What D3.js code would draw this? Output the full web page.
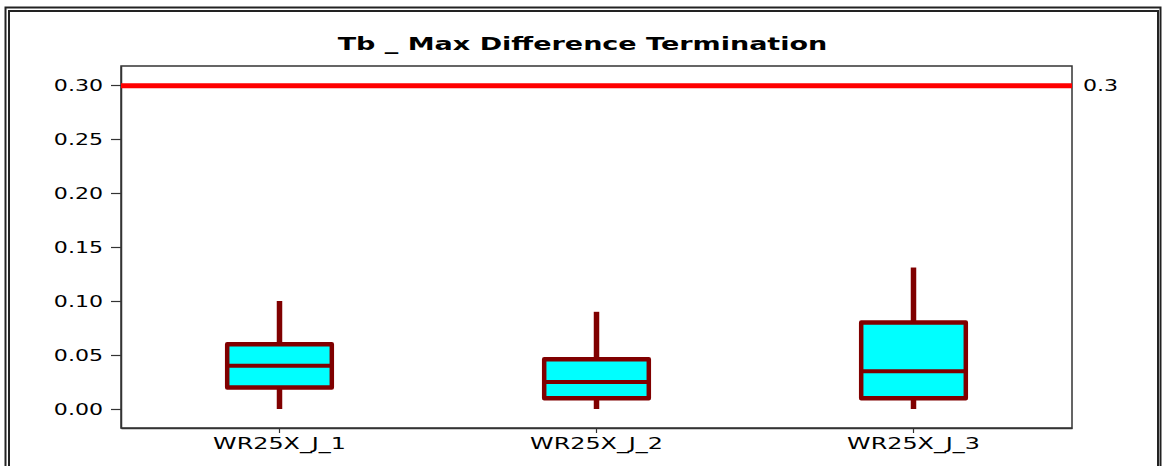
<!DOCTYPE html>
<html><head><meta charset="utf-8">
<script src="https://cdn.jsdelivr.net/npm/d3@7"></script>
<style>
body{margin:0;background:#fff;}
svg{display:block;font-family:"DejaVu Sans",Verdana,sans-serif;}
</style></head>
<body><svg id="c" width="1162" height="466"></svg>
<script>
const title = "Tb _ Max Difference Termination";
const categories = ["WR25X_J_1","WR25X_J_2","WR25X_J_3"];
const whiskerLow = [0.0, 0.0, 0.0];
const q1 = [0.02, 0.01, 0.01];
const median = [0.04, 0.025, 0.035];
const q3 = [0.06, 0.046, 0.080];
const whiskerHigh = [0.10, 0.09, 0.131];
const yTicks = [0.00,0.05,0.10,0.15,0.20,0.25,0.30];
const refValue = 0.3;
const refLabel = "0.3";

const svg = d3.select("#c");
const L=121, R=1072, T=66, B=428;
const y = d3.scaleLinear().domain([-0.0176, 0.3176]).range([B, T]);
const x = d3.scaleBand().domain(categories).range([L, R]).padding(0);

function stretch(sel, f){
  sel.each(function(){
    const w = this.getComputedTextLength();
    d3.select(this).attr("textLength", w*f).attr("lengthAdjust","spacingAndGlyphs");
  });
}

// outer frame (double)
svg.append("rect").attr("x",5.5).attr("y",7.5).attr("width",1155).attr("height",470)
  .attr("fill","none").attr("stroke","#222").attr("stroke-width",2);
svg.append("rect").attr("x",9).attr("y",11).attr("width",1149).attr("height",470)
  .attr("fill","none").attr("stroke","#222").attr("stroke-width",2);

// title
const tt = svg.append("text").attr("x",(338+827)/2).attr("y",50).attr("text-anchor","middle")
  .attr("font-weight","bold").attr("font-size",18).attr("fill","#000").text(title);
stretch(tt, 1.5);

// plot frame
svg.append("rect").attr("x",L).attr("y",T).attr("width",R-L).attr("height",B-T)
  .attr("fill","none").attr("stroke","#333").attr("stroke-width",1.5);

// y axis
const ya = svg.append("g").attr("transform",`translate(${L},0)`)
  .call(d3.axisLeft(y).tickValues(yTicks).tickFormat(d3.format(".2f")).tickSize(10).tickSizeOuter(0).tickPadding(8));
ya.select(".domain").attr("stroke","#333").attr("stroke-width",1.5);
ya.selectAll(".tick line").attr("stroke","#333").attr("stroke-width",1.2);
ya.selectAll(".tick text").attr("font-size",16).attr("font-family","DejaVu Sans").attr("fill","#000");
stretch(ya.selectAll(".tick text"), 1.38);

// x axis
const xa = svg.append("g").attr("transform",`translate(0,${B})`)
  .call(d3.axisBottom(x).tickSize(5).tickSizeOuter(0).tickPadding(5));
xa.select(".domain").attr("stroke","#333").attr("stroke-width",1.5);
xa.selectAll(".tick line").attr("stroke","#333").attr("stroke-width",1.2);
xa.selectAll(".tick text").attr("font-size",16).attr("font-family","DejaVu Sans").attr("fill","#000");
stretch(xa.selectAll(".tick text"), 1.49);

// reference line
svg.append("line").attr("x1",L).attr("x2",R).attr("y1",y(refValue)+0.8).attr("y2",y(refValue)+0.8)
  .attr("stroke","#ff0000").attr("stroke-width",5);
const rl = svg.append("text").attr("x",R+11).attr("y",y(refValue)+0.8).attr("dy","0.35em")
  .attr("font-size",16).attr("fill","#000").text(refLabel);
stretch(rl, 1.38);

// boxes
const data = categories.map((c,i)=>({c, lo:whiskerLow[i], q1:q1[i], med:median[i], q3:q3[i], hi:whiskerHigh[i]}));
const bw = x.bandwidth()*0.33;
const col = "#800000";
const g = svg.append("g").selectAll("g").data(data).join("g")
  .attr("transform", d=>`translate(${x(d.c)+x.bandwidth()/2},0)`);
g.append("line").attr("x1",0).attr("x2",0).attr("y1",d=>y(d.hi)).attr("y2",d=>y(d.q3))
  .attr("stroke",col).attr("stroke-width",5.5);
g.append("line").attr("x1",0).attr("x2",0).attr("y1",d=>y(d.lo)).attr("y2",d=>y(d.q1))
  .attr("stroke",col).attr("stroke-width",5.5);
g.append("rect").attr("x",-bw/2).attr("width",bw).attr("y",d=>y(d.q3)).attr("height",d=>y(d.q1)-y(d.q3))
  .attr("fill","#00ffff").attr("stroke",col).attr("stroke-width",4.5).attr("stroke-linejoin","round");
g.append("line").attr("x1",-bw/2).attr("x2",bw/2).attr("y1",d=>y(d.med)).attr("y2",d=>y(d.med))
  .attr("stroke",col).attr("stroke-width",4);
</script></body></html>
